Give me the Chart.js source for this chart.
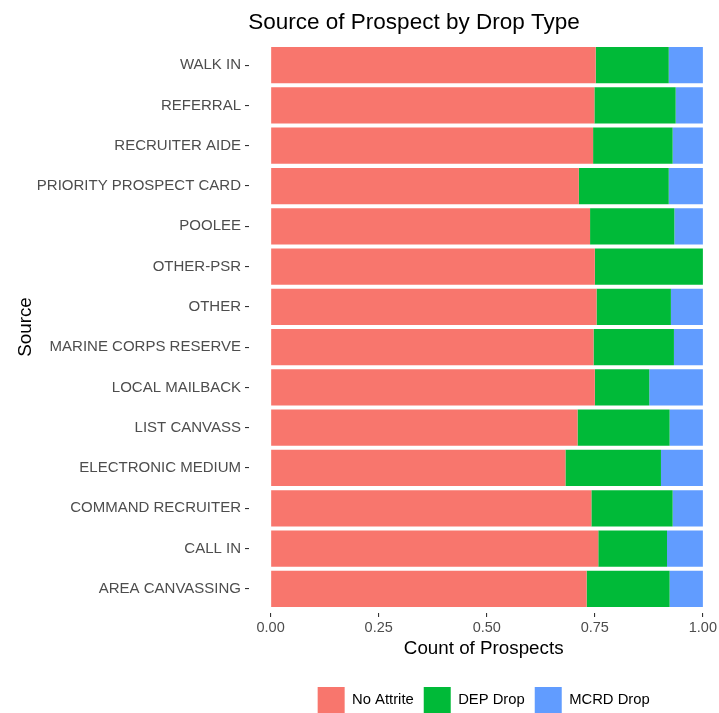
<!DOCTYPE html>
<html>
<head>
<meta charset="utf-8">
<script src="https://cdn.jsdelivr.net/npm/chart.js@4/dist/chart.umd.min.js"></script>
<style>
  html, body { margin: 0; padding: 0; background: #ffffff; }
  #wrap { width: 719px; height: 713px; }
</style>
</head>
<body>
<div id="wrap"><canvas id="c" width="719" height="713"></canvas></div>
<script>
// ---- data (top-to-bottom order of the chart) ----
const categories = [
  "WALK IN", "REFERRAL", "RECRUITER AIDE", "PRIORITY PROSPECT CARD", "POOLEE",
  "OTHER-PSR", "OTHER", "MARINE CORPS RESERVE", "LOCAL MAILBACK", "LIST CANVASS",
  "ELECTRONIC MEDIUM", "COMMAND RECRUITER", "CALL IN", "AREA CANVASSING"
];
const seriesNames = ["No Attrite", "DEP Drop", "MCRD Drop"];
const noAttrite = [0.752, 0.749, 0.746, 0.713, 0.739, 0.750, 0.754, 0.747, 0.750, 0.710, 0.682, 0.742, 0.758, 0.731];
const depDrop   = [0.169, 0.188, 0.184, 0.208, 0.195, 0.250, 0.172, 0.186, 0.126, 0.213, 0.221, 0.188, 0.159, 0.192];
const mcrdDrop  = [0.079, 0.063, 0.070, 0.079, 0.066, 0.000, 0.074, 0.067, 0.124, 0.077, 0.097, 0.070, 0.083, 0.077];
const xTicks = [0, 0.25, 0.5, 0.75, 1.0];
const chartTitle = "Source of Prospect by Drop Type";
const xTitle = "Count of Prospects";
const yTitle = "Source";

const colors = ["#F8766D", "#00BA38", "#619CFF"];
const FONT = '"Liberation Sans", Arial, sans-serif';

const toPoints = arr => arr.map((v, i) => ({ x: v, y: i }));

const titlePlugin = {
  id: 'plotTitle',
  afterDraw(chart) {
    const ctx = chart.ctx;
    ctx.save();
    ctx.font = '22.5px ' + FONT;
    ctx.fillStyle = '#000000';
    ctx.textAlign = 'center';
    ctx.textBaseline = 'alphabetic';
    ctx.fillText(chartTitle, 414, 28.5);
    ctx.restore();
  }
};

new Chart(document.getElementById('c'), {
  type: 'bar',
  data: {
    datasets: [
      { label: seriesNames[0], data: toPoints(noAttrite), backgroundColor: colors[0], borderWidth: 0 },
      { label: seriesNames[1], data: toPoints(depDrop),   backgroundColor: colors[1], borderWidth: 0 },
      { label: seriesNames[2], data: toPoints(mcrdDrop),  backgroundColor: colors[2], borderWidth: 0 }
    ]
  },
  plugins: [titlePlugin],
  options: {
    indexAxis: 'y',
    responsive: false,
    animation: false,
    devicePixelRatio: 1,
    datasets: { bar: { barPercentage: 0.9, categoryPercentage: 1.0 } },
    layout: { padding: { top: 41, bottom: -10, left: 0, right: 0 } },
    scales: {
      x: {
        type: 'linear',
        stacked: true,
        offset: false,
        min: -0.05,
        max: 1.0358,
        afterBuildTicks: s => { s.ticks = xTicks.map(v => ({ value: v })); },
        afterFit: s => { s.height = 64; },
        border: { display: false },
        grid: { offset: false, drawOnChartArea: false, drawTicks: true, tickLength: 4, color: '#333333', lineWidth: 1.1 },
        ticks: {
          padding: 2,
          maxRotation: 0,
          autoSkip: false,
          color: '#4D4D4D',
          font: { family: FONT, size: 14.5 },
          callback: v => Number(v).toFixed(2)
        },
        title: {
          display: true,
          text: xTitle,
          color: '#000000',
          font: { family: FONT, size: 18.8 },
          padding: { top: 0, bottom: 17 }
        }
      },
      y: {
        type: 'linear',
        stacked: true,
        reverse: true,
        offset: false,
        min: -0.6,
        max: 13.6,
        afterBuildTicks: s => { s.ticks = categories.map((_, i) => ({ value: i })); },
        afterFit: s => { s.width = 249; },
        border: { display: false },
        grid: { offset: false, drawOnChartArea: false, drawTicks: true, tickLength: 4, color: '#333333', lineWidth: 1.1 },
        ticks: {
          padding: 4,
          autoSkip: false,
          color: '#4D4D4D',
          font: { family: FONT, size: 15 },
          callback: v => categories[v]
        },
        title: {
          display: true,
          text: yTitle,
          color: '#000000',
          font: { family: FONT, size: 18.8 },
          padding: { top: 15, bottom: 0 }
        }
      }
    },
    plugins: {
      title: { display: false },
      tooltip: { enabled: false },
      legend: {
        position: 'bottom',
        fullSize: false,
        align: 'center',
        labels: {
          boxWidth: 27,
          boxHeight: 26,
          padding: 10,
          color: '#000000',
          font: { family: FONT, size: 14.8 }
        }
      }
    }
  }
});
</script>
</body>
</html>
